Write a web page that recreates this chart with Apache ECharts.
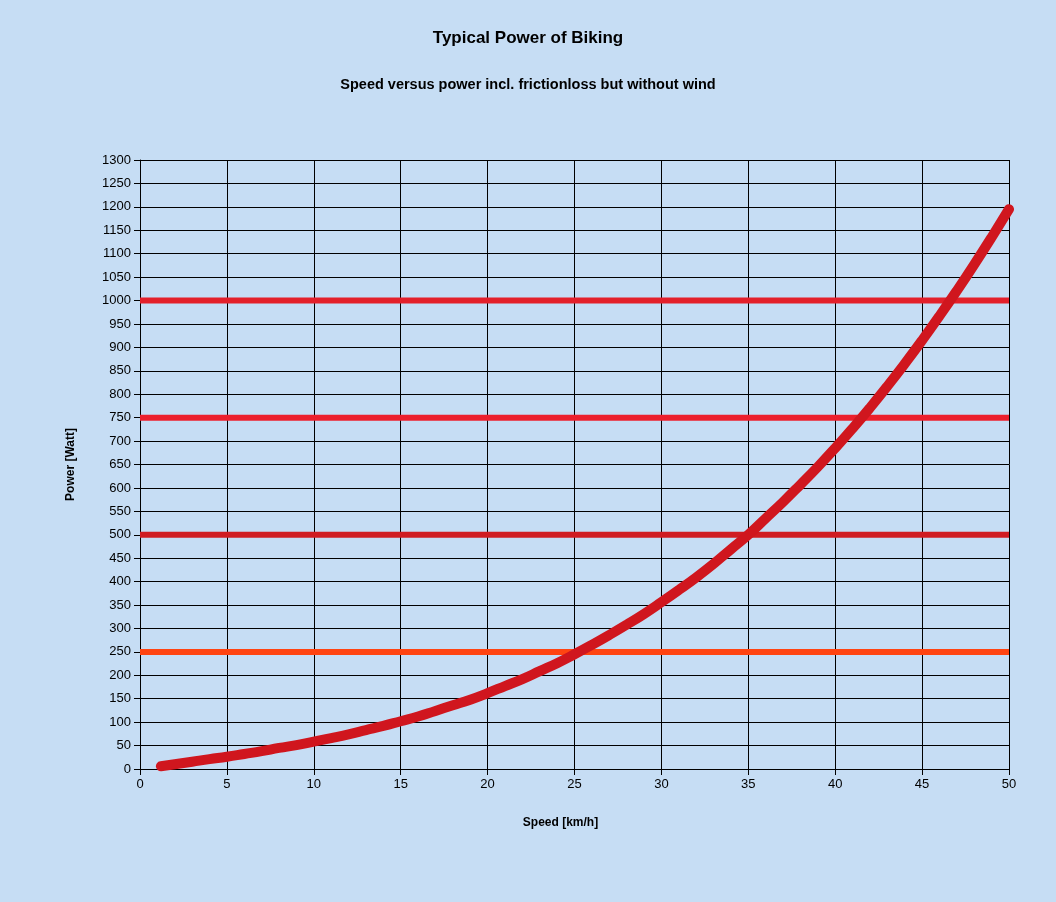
<!DOCTYPE html>
<html>
<head>
<meta charset="utf-8">
<script src="https://cdn.jsdelivr.net/npm/echarts@6/dist/echarts.min.js"></script>
<style>html,body{margin:0;padding:0;background:#c6ddf4;}#c{width:1056px;height:902px;}</style>
</head>
<body>
<div id="c"></div>
<script>
var speeds = [1.2,2,3,4,5,6,7,8,9,10,11,12,13,14,15,16,17,18,19,20,21,22,23,24,25,26,27,28,29,30,31,32,33,34,35,36,37,38,39,40,41,42,43,44,45,46,47,48,49,50];
var power = [6,10,15.5,21,26,32,38,45,51,58.5,66,74,83,92,102,112,124,136,148,162,177,192,209,226,245,265,286,308,331,356,382,409,438,469,500,535,570,607,645,685,727,771,817,865,915,967,1021,1077,1135,1195];
var levels = [1000, 750, 500, 250];
var levelColors = ['#e3202a', '#ec1f2c', '#d01c22', '#ff4411'];

var chart = echarts.init(document.getElementById('c'));
var series = [];
levels.forEach(function (lv, i) {
  series.push({
    type: 'line', data: [[0, lv], [50, lv]], symbol: 'none', silent: true,
    lineStyle: { color: levelColors[i], width: 6 }, z: 2
  });
});
series.push({
  type: 'line', data: speeds.map(function (s, i) { return [s, power[i]]; }),
  symbol: 'none', smooth: true, z: 3,
  lineStyle: { color: '#d0161e', width: 10, cap: 'round', join: 'round' }
});
chart.setOption({
  backgroundColor: '#c6ddf4',
  animation: false,
  title: [
    { text: 'Typical Power of Biking', left: 'center', top: 25,
      textStyle: { fontFamily: 'Liberation Sans', fontSize: 17, fontWeight: 'bold', color: '#000' } },
    { text: 'Speed versus power incl. frictionloss but without wind', left: 'center', top: 72,
      textStyle: { fontFamily: 'Liberation Sans', fontSize: 14.5, fontWeight: 'bold', color: '#000' } }
  ],
  grid: { left: 140, right: 47, top: 160, bottom: 133, containLabel: false },
  xAxis: {
    type: 'value', min: 0, max: 50, interval: 5,
    name: 'Speed [km/h]', nameLocation: 'middle', nameGap: 48,
    nameTextStyle: { fontFamily: 'Liberation Sans', fontSize: 12, fontWeight: 'bold', color: '#000', padding: [0, 28, 0, 0] },
    axisLine: { lineStyle: { color: '#000', width: 1 } },
    axisTick: { show: true, length: 6, lineStyle: { color: '#000' } },
    axisLabel: { fontFamily: 'Liberation Sans', fontSize: 13, color: '#000', margin: 9 },
    splitLine: { show: true, lineStyle: { color: '#000', width: 1 } }
  },
  yAxis: {
    type: 'value', min: 0, max: 1300, interval: 50,
    name: 'Power [Watt]', nameLocation: 'middle', nameGap: 63, nameRotate: 90,
    nameTextStyle: { fontFamily: 'Liberation Sans', fontSize: 12, fontWeight: 'bold', color: '#000' },
    axisLine: { show: true, lineStyle: { color: '#000', width: 1 } },
    axisTick: { show: true, length: 6, lineStyle: { color: '#000' } },
    axisLabel: { fontFamily: 'Liberation Sans', fontSize: 13, color: '#000', margin: 9,
      formatter: function (v) { return String(v); } },
    splitLine: { show: true, lineStyle: { color: '#000', width: 1 } }
  },
  series: series
});
</script>
</body>
</html>
